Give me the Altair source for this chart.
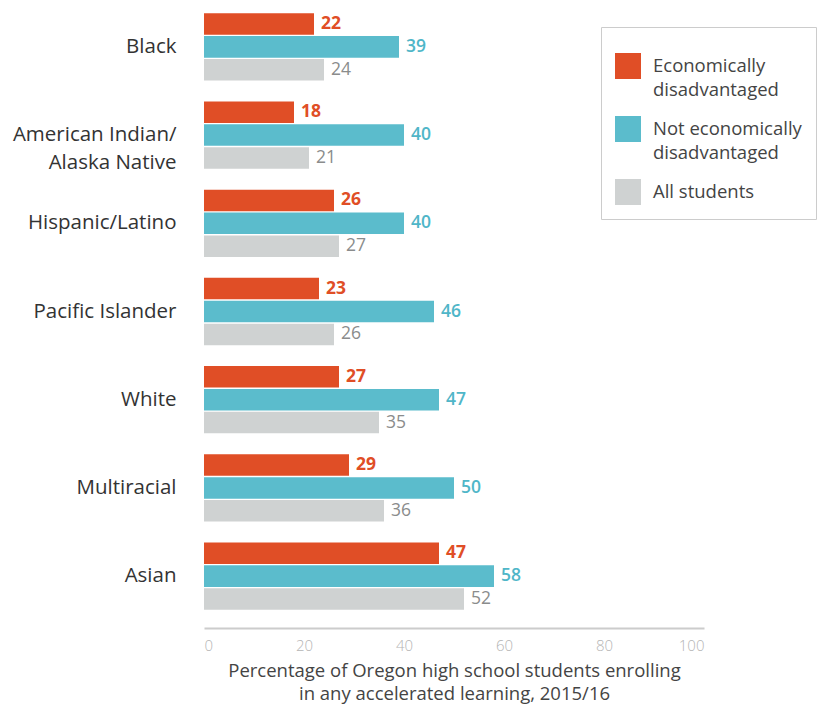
import altair as alt
import pandas as pd

groups = ["Black", "American Indian/Alaska Native", "Hispanic/Latino",
          "Pacific Islander", "White", "Multiracial", "Asian"]
series = ["Economically disadvantaged", "Not economically disadvantaged", "All students"]
econ = [22, 18, 26, 23, 27, 29, 47]
not_econ = [39, 40, 40, 46, 47, 50, 58]
all_students = [24, 21, 27, 26, 35, 36, 52]
x_ticks = [0, 20, 40, 60, 80, 100]

bar_colors = ["#e04e26", "#5bbccc", "#cfd2d2"]
label_colors = ["#e04e26", "#4fb6c8", "#8a8c8c"]
label_weights = ["bold", 600, "normal"]

rows = []
for vals, s in zip([econ, not_econ, all_students], series):
    for g, v in zip(groups, vals):
        rows.append({"group": g, "series": s, "value": v})
df = pd.DataFrame(rows)

FONT = "Open Sans"

y_enc = alt.Y("group:N", sort=groups,
              scale=alt.Scale(paddingInner=0.237, paddingOuter=0.133, align=0.223),
              axis=alt.Axis(title=None, domain=False, ticks=False, labelPadding=28,
                            labelFontSize=20.5, labelColor="#333333", labelFont=FONT,
                            labelLimit=300, labelLineHeight=28,
                            labelExpr="datum.label == 'American Indian/Alaska Native' ? ['American Indian/', 'Alaska Native'] : datum.label"))
yoff = alt.YOffset("series:N", sort=series, scale=alt.Scale(paddingInner=0.06))
x_enc = alt.X("value:Q", scale=alt.Scale(domain=[0, 100]),
              axis=alt.Axis(values=x_ticks, grid=False, ticks=False,
                            domainColor="#cccccc", domainWidth=2,
                            labelColor="#b5b5b5", labelFontSize=15, labelFont=FONT,
                            labelFontWeight=300, labelPadding=10,
                            title=["Percentage of Oregon high school students enrolling",
                                   "in any accelerated learning, 2015/16"],
                            titleFontSize=18.5, titleColor="#444444", titleFont=FONT,
                            titleFontWeight="normal", titlePadding=8, titleLineHeight=23))

bars = alt.Chart(df).mark_bar().encode(
    x=x_enc,
    y=y_enc,
    yOffset=yoff,
    color=alt.Color("series:N", sort=series,
                    scale=alt.Scale(domain=series, range=bar_colors),
                    legend=alt.Legend(
                        title=" ", titleFontSize=6, titlePadding=6,
                        orient="none", legendX=397, legendY=19,
                        symbolType="square", symbolSize=676, symbolStrokeWidth=0,
                        labelFontSize=18.5, labelColor="#444444", labelFont=FONT,
                        labelLimit=300, labelOffset=12, rowPadding=16,
                        padding=14, fillColor="white", strokeColor="#cccccc",
                        labelExpr="datum.label == 'Economically disadvantaged' ? ['Economically', 'disadvantaged'] : datum.label == 'Not economically disadvantaged' ? ['Not economically', 'disadvantaged'] : datum.label")),
)

texts = []
for s, c, w in zip(series, label_colors, label_weights):
    texts.append(
        alt.Chart(df).transform_filter(alt.datum.series == s)
        .mark_text(align="left", baseline="middle", dx=7, fontSize=17.5,
                   font=FONT, fontWeight=w, color=c)
        .encode(x="value:Q", y=alt.Y("group:N", sort=groups), yOffset=yoff,
                text=alt.Text("value:Q"))
    )

chart = alt.layer(bars, *texts).properties(
    width=500, height=620,
    autosize=alt.AutoSizeParams(type="none"),
    padding={"left": 196, "top": 0, "right": 114, "bottom": 77},
).configure(
    font=FONT,
    view=alt.ViewConfig(stroke=None),
    style={"guide-label": {"lineHeight": 24}},
)

chart.save("out.html", embed_options={"renderer": "svg", "actions": False})
